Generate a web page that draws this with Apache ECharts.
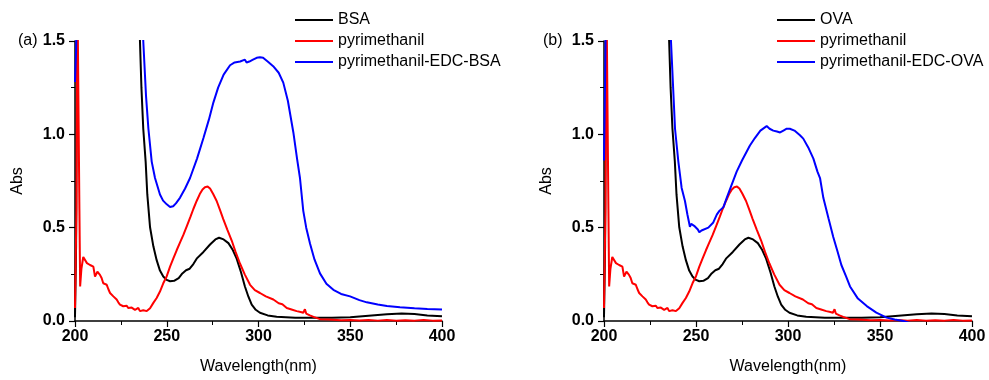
<!DOCTYPE html>
<html>
<head>
<meta charset="utf-8">
<title>UV spectra</title>
<script src="https://cdn.jsdelivr.net/npm/echarts@6/dist/echarts.min.js"></script>
<style>
  html, body { margin: 0; padding: 0; background: #fff; }
  #chart { width: 989px; height: 380px; }
</style>
</head>
<body>
<div id="chart"></div>
<script>
// [wavelength nm, absorbance]; values above 1.5 run off the top
const proteinData = [
  [200, 0.02], [200.6, 0.4], [201.2, 1.8], [234.8, 1.8], [235.4, 1.5], [236.2, 1.25],
  [237.2, 1.03], [238.5, 0.854], [239.4, 0.678], [240.9, 0.502], [242.7, 0.4],
  [244.5, 0.326], [246.3, 0.27], [248.1, 0.238], [250, 0.22], [251.8, 0.213],
  [254, 0.215], [256.5, 0.23], [258.5, 0.255], [260.5, 0.272], [262.5, 0.28],
  [264.5, 0.305], [266.3, 0.334], [270, 0.37], [273.6, 0.41], [276.5, 0.437],
  [278.5, 0.446], [281, 0.437], [283.6, 0.417], [286, 0.38], [288.1, 0.334],
  [290.5, 0.26], [292.6, 0.185], [294.5, 0.13], [296.3, 0.088], [298.5, 0.06],
  [300.8, 0.044], [305, 0.03], [309.9, 0.023], [320, 0.018], [330, 0.017],
  [340, 0.018], [350, 0.02], [360, 0.028], [370, 0.036], [378, 0.04], [385, 0.037],
  [392, 0.03], [400, 0.025]
]

const pyrData = [
  [200, 0.07], [200.8, 0.6], [201.3, 1.8], [202, 1.8], [202.4, 0.6], [202.8, 0.185],
  [203.5, 0.28], [204.5, 0.343], [205.5, 0.35], [206.5, 0.31], [207.3, 0.32],
  [208.2, 0.3], [209.2, 0.295], [210, 0.291], [210.9, 0.238], [212.2, 0.264],
  [213.6, 0.247], [214.5, 0.23], [215.4, 0.202], [216.3, 0.21], [217.3, 0.194],
  [218.2, 0.17], [219.1, 0.15], [220, 0.145], [220.9, 0.132], [221.8, 0.128],
  [222.7, 0.115], [223.6, 0.1], [224.5, 0.088], [225.4, 0.09], [226.3, 0.079],
  [227.2, 0.072], [228.2, 0.082], [229, 0.07], [230, 0.065], [230.9, 0.072],
  [231.8, 0.07], [232.7, 0.06], [233.6, 0.062], [234.5, 0.07], [235.4, 0.053],
  [236.3, 0.06], [237.2, 0.058], [238.1, 0.05], [239.1, 0.053], [240, 0.06],
  [240.9, 0.068], [242.7, 0.097], [244.5, 0.123], [246.3, 0.158], [248.1, 0.202],
  [250, 0.24], [251.8, 0.291], [253.6, 0.335], [255.4, 0.379], [257.2, 0.42],
  [259, 0.46], [261, 0.51], [263, 0.56], [264.5, 0.6], [266.3, 0.643], [268, 0.68],
  [269.5, 0.705], [270.8, 0.717], [271.6, 0.712], [272.3, 0.72], [273.6, 0.71],
  [275.3, 0.68], [277.2, 0.643], [279, 0.595], [280.8, 0.546], [283, 0.49],
  [285.4, 0.431], [287.5, 0.37], [289.9, 0.308], [292.5, 0.25], [295.4, 0.194],
  [298, 0.165], [300.8, 0.15], [304, 0.132], [308.1, 0.115], [311, 0.095],
  [313, 0.09], [315.4, 0.07], [318, 0.062], [320.8, 0.053], [323, 0.048],
  [324.4, 0.044], [325.3, 0.063], [326, 0.04], [328, 0.03], [330, 0.022],
  [333.5, 0.01], [338, 0.008], [345, 0.004], [350, 0.006], [355, 0.003],
  [360, 0.006], [365, 0.002], [370, 0.005], [375, 0.002], [380, 0.004],
  [385, 0.002], [390, 0.005], [395, 0.002], [400, 0.003]
]

const bsaConjData = [
  [200, 1.28], [200.6, 1.45], [201.2, 1.8], [236.5, 1.8], [237.2, 1.5], [238.7, 1.206],
  [240, 1.03], [241.8, 0.854], [243.6, 0.766], [246.3, 0.678], [248, 0.645],
  [250, 0.625], [251.8, 0.611], [253.5, 0.615], [255, 0.63], [257.2, 0.66],
  [260, 0.71], [262.7, 0.766], [266.5, 0.87], [270, 0.98], [273, 1.08],
  [275.4, 1.17], [278, 1.25], [281, 1.32], [284.5, 1.37], [287, 1.385], [290, 1.39],
  [292.6, 1.4], [293.5, 1.385], [295, 1.39], [297, 1.4], [299, 1.41], [300.8, 1.413],
  [302.5, 1.41], [305, 1.39], [308, 1.365], [311, 1.33], [313.5, 1.277], [316, 1.18],
  [319, 1.01], [321, 0.87], [322.6, 0.766], [324.4, 0.59], [326, 0.5], [328.1, 0.414],
  [330.5, 0.33], [333.5, 0.255], [337, 0.2], [340.8, 0.167], [345, 0.145],
  [349.9, 0.132], [355, 0.112], [359, 0.1], [365, 0.088], [370, 0.08], [377.1, 0.074],
  [385, 0.068], [392, 0.064], [400, 0.062]
]

const ovaConjData = [
  [200, 0.86], [200.6, 1.3], [201.2, 1.8], [235.8, 1.8], [236.4, 1.5], [238.6, 1.03],
  [240.4, 0.854], [242.2, 0.713], [244, 0.643], [245.3, 0.572], [246.7, 0.505],
  [247.4, 0.52], [248.1, 0.53], [249, 0.51], [249.9, 0.51], [251, 0.49],
  [251.8, 0.475], [253, 0.485], [254, 0.493], [256.7, 0.5], [259.4, 0.528],
  [261.3, 0.57], [262.7, 0.59], [264.9, 0.61], [266.7, 0.66], [269, 0.72],
  [272.1, 0.8], [275, 0.86], [279.3, 0.94], [282, 0.98], [285, 1.02], [288.4, 1.044],
  [290, 1.03], [291, 1.035], [292, 1.02], [294, 1.015], [295.7, 1.01], [297.5, 1.02],
  [299.3, 1.03], [301, 1.03], [303.5, 1.02], [306.5, 0.995], [308.3, 0.977],
  [311, 0.93], [313.8, 0.87], [316, 0.8], [317.4, 0.766], [319.2, 0.66],
  [322, 0.55], [324.6, 0.45], [327, 0.37], [329, 0.3], [331.5, 0.24], [333.7, 0.185],
  [338, 0.12], [342.8, 0.08], [348, 0.045], [353.6, 0.018], [358, 0.008],
  [362.7, 0.0], [366, -0.01], [400, -0.03]
]

const panelLabels = ['(a)', '(b)']
const legendA = ['BSA', 'pyrimethanil', 'pyrimethanil-EDC-BSA']
const legendB = ['OVA', 'pyrimethanil', 'pyrimethanil-EDC-OVA']

const FONT = '"Liberation Sans", Arial, sans-serif'

function xAx(gridIndex) {
  return {
    gridIndex: gridIndex,
    type: 'value',
    min: 200,
    max: 400,
    interval: 50,
    name: 'Wavelength(nm)',
    nameLocation: 'middle',
    nameGap: 38,
    nameTextStyle: { fontFamily: FONT, fontSize: 16, color: '#000' },
    axisLine: { lineStyle: { color: '#000', width: 1.5 } },
    axisTick: { inside: false, length: 6, lineStyle: { color: '#000', width: 1.2 } },
    minorTick: { show: true, splitNumber: 2, length: 4, lineStyle: { color: '#000', width: 1 } },
    splitLine: { show: false },
    axisLabel: { margin: 8, fontFamily: FONT, fontSize: 16, fontWeight: 'bold', color: '#000' }
  }
}

function yAx(gridIndex) {
  return {
    gridIndex: gridIndex,
    type: 'value',
    min: 0,
    max: 1.5,
    interval: 0.5,
    name: 'Abs',
    nameLocation: 'middle',
    nameGap: 49,
    nameTextStyle: { fontFamily: FONT, fontSize: 16, color: '#000' },
    axisLine: { show: true, lineStyle: { color: '#000', width: 1.5 } },
    axisTick: { show: true, inside: false, length: 6, lineStyle: { color: '#000', width: 1.2 } },
    minorTick: { show: true, splitNumber: 2, length: 4, lineStyle: { color: '#000', width: 1 } },
    splitLine: { show: false },
    axisLabel: {
      margin: 10, fontFamily: FONT, fontSize: 16, fontWeight: 'bold', color: '#000',
      formatter: v => v.toFixed(1)
    }
  }
}

function line(name, data, color, gridIndex) {
  return {
    name: name,
    type: 'line',
    xAxisIndex: gridIndex,
    yAxisIndex: gridIndex,
    data: data,
    symbol: 'none',
    clip: true,
    lineStyle: { color: color, width: 2 },
    itemStyle: { color: color }
  }
}

// plain line keys: thin rect icon, no symbol
function legendAt(left, names) {
  return {
    orient: 'vertical',
    left: left,
    top: 6,
    icon: 'rect',
    itemWidth: 38,
    itemHeight: 2,
    itemGap: 3,
    data: names,
    selectedMode: false,
    textStyle: { fontFamily: FONT, fontSize: 16, color: '#000', lineHeight: 18 }
  }
}

const chart = echarts.init(document.getElementById('chart'))
chart.setOption({
  animation: false,
  backgroundColor: '#fff',
  grid: [
    { left: 75, top: 41, width: 367, height: 284 },
    { left: 604, top: 41, width: 368, height: 284 }
  ],
  xAxis: [xAx(0), xAx(1)],
  yAxis: [yAx(0), yAx(1)],
  legend: [legendAt(290, legendA), legendAt(772, legendB)],
  graphic: [
    { type: 'text', left: 18, top: 33, style: { text: panelLabels[0], font: '16px ' + FONT, fill: '#000' } },
    { type: 'text', left: 543, top: 33, style: { text: panelLabels[1], font: '16px ' + FONT, fill: '#000' } }
  ],
  series: [
    line('BSA', proteinData, '#000000', 0),
    line('pyrimethanil', pyrData, '#ff0000', 0),
    line('pyrimethanil-EDC-BSA', bsaConjData, '#0000ff', 0),
    line('OVA', proteinData, '#000000', 1),
    line('pyrimethanil', pyrData, '#ff0000', 1),
    line('pyrimethanil-EDC-OVA', ovaConjData, '#0000ff', 1)
  ]
})
</script>
</body>
</html>
